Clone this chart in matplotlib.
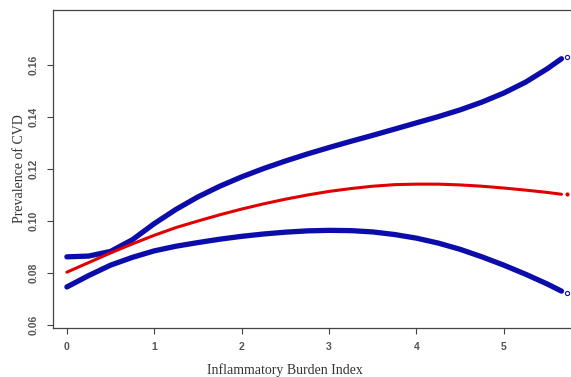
import numpy as np
import matplotlib
matplotlib.use("Agg")
import matplotlib.pyplot as plt

ibi = [0, 0.25, 0.5, 0.75, 1.0, 1.25, 1.5, 1.75, 2.0, 2.25, 2.5, 2.75,
       3.0, 3.25, 3.5, 3.75, 4.0, 4.25, 4.5, 4.75, 5.0, 5.25, 5.5, 5.66]
upper = [0.0862, 0.0865, 0.0883, 0.0928, 0.0990, 0.1045, 0.1093, 0.1134,
         0.1170, 0.1202, 0.1231, 0.1258, 0.1283, 0.1307, 0.1330, 0.1354,
         0.1378, 0.1402, 0.1428, 0.1458, 0.1493, 0.1535, 0.1587, 0.1625]
fit = [0.0803, 0.0840, 0.0877, 0.0912, 0.0945, 0.0975, 0.1000, 0.1024,
       0.1046, 0.1066, 0.1084, 0.1100, 0.1114, 0.1125, 0.1134, 0.1140,
       0.1142, 0.1142, 0.1139, 0.1134, 0.1127, 0.1119, 0.1110, 0.1103]
lower = [0.0746, 0.0790, 0.0830, 0.0860, 0.0885, 0.0903, 0.0917, 0.0930,
         0.0941, 0.0950, 0.0957, 0.0962, 0.0964, 0.0963, 0.0958, 0.0948,
         0.0934, 0.0915, 0.0891, 0.0862, 0.0830, 0.0795, 0.0757, 0.0730]

xticks = [0, 1, 2, 3, 4, 5]
yticks = [0.06, 0.08, 0.10, 0.12, 0.14, 0.16]

blue = "#0c0caa"
red = "#e00000"

fig = plt.figure(figsize=(5.71, 3.77), dpi=100)
ax = fig.add_axes([0.092, 0.13, 0.925, 0.843])

ax.plot(ibi, upper, color=blue, lw=3.8, solid_capstyle="round")
ax.plot(ibi, lower, color=blue, lw=3.8, solid_capstyle="round")
ax.plot(ibi, fit, color=red, lw=2.2, solid_capstyle="round")
# marcas finais
ax.plot(ibi[-1] + 0.06, upper[-1] + 0.0008, "o", mfc="none", mec=blue, ms=3, mew=0.8)
ax.plot(ibi[-1] + 0.06, lower[-1] - 0.0006, "o", mfc="none", mec=blue, ms=3, mew=0.8)
ax.plot(ibi[-1] + 0.06, fit[-1], "o", color=red, ms=2)

ax.set_xlim(-0.164, 5.88)
ax.set_ylim(0.0588, 0.1812)
ax.set_xticks(xticks)
ax.set_xticklabels([str(t) for t in xticks])
ax.set_yticks(yticks)
ax.set_yticklabels(["%.2f" % t for t in yticks], rotation=90, va="center")

for s in ax.spines.values():
    s.set_color("#444444")
    s.set_linewidth(0.9)
ax.tick_params(direction="out", length=4, width=0.8, colors="#444444",
               labelsize=7.5, pad=6)
for lab in ax.get_xticklabels() + ax.get_yticklabels():
    lab.set_family("Liberation Sans")
    lab.set_color("#555555")
    lab.set_fontweight("bold")

ax.set_xlabel("Inflammatory Burden Index", family="Liberation Serif",
              fontsize=10, color="#333333")
ax.xaxis.set_label_coords(0.44, -0.11)
ax.set_ylabel("Prevalence of CVD", family="Liberation Serif",
              fontsize=10, color="#333333")
ax.yaxis.set_label_coords(-0.05, 0.5)

fig.savefig("out.png", dpi=100)
